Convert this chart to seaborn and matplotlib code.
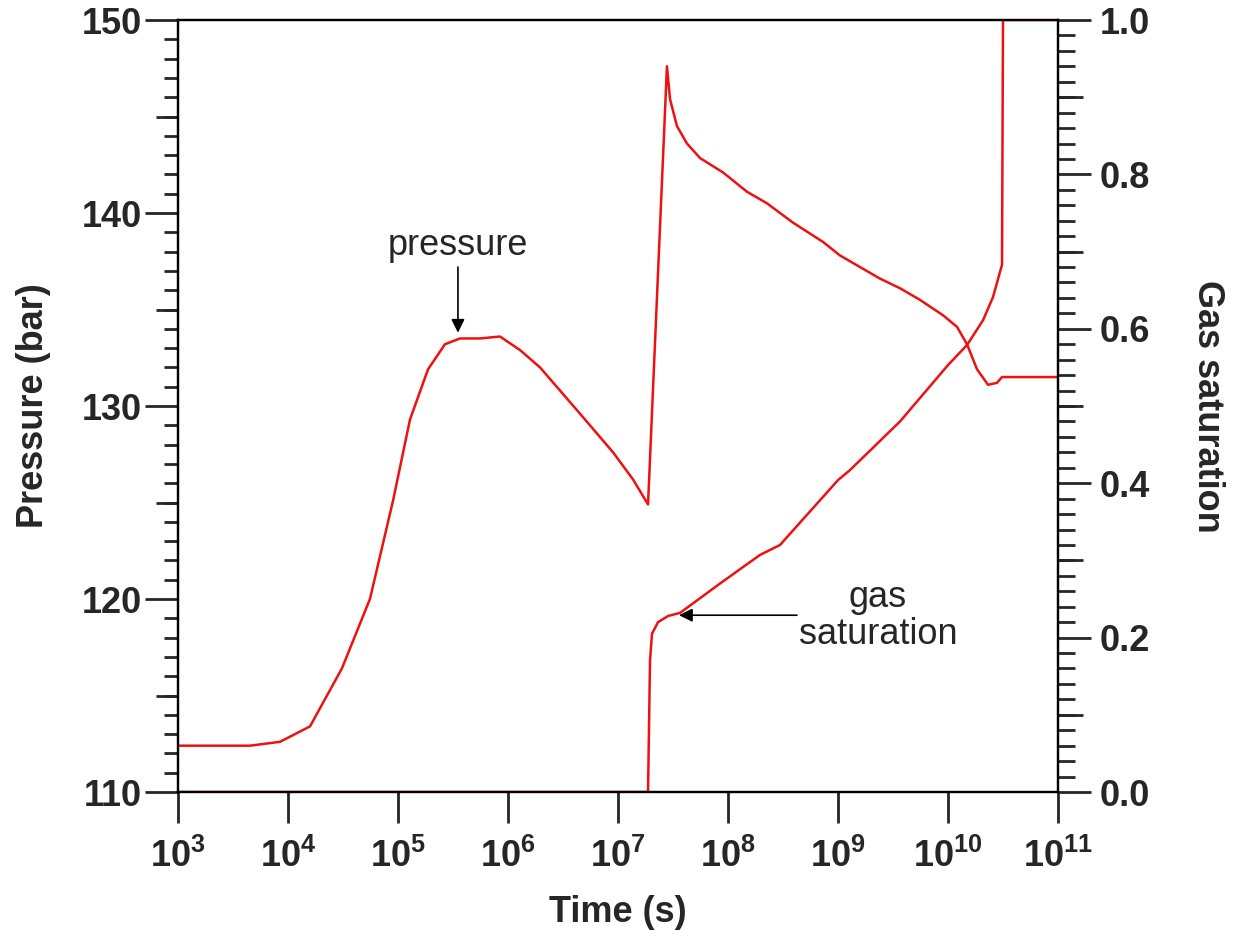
import numpy as np
import pandas as pd
import matplotlib
matplotlib.use("Agg")
import matplotlib.pyplot as plt
import seaborn as sns
from matplotlib.ticker import FixedLocator, MultipleLocator, NullLocator

# ---------------- data ----------------
p_logt = [3.0, 3.655, 3.927, 4.2, 4.49, 4.745, 4.955, 5.109, 5.273, 5.427,
          5.564, 5.745, 5.927, 6.109, 6.291, 6.655, 6.955, 7.136, 7.273,
          7.445, 7.473, 7.536, 7.627, 7.745, 7.955, 8.173, 8.355, 8.591,
          8.864, 9.018, 9.382, 9.564, 9.745, 9.955, 10.082, 10.173, 10.264,
          10.364, 10.445, 10.491, 11.0]
pressure = [112.4, 112.4, 112.6, 113.4, 116.4, 120.0, 125.1, 129.3, 131.9,
            133.2, 133.5, 133.5, 133.6, 132.9, 132.0, 129.6, 127.6, 126.2,
            124.9, 147.6, 145.9, 144.5, 143.6, 142.85, 142.1, 141.1, 140.5,
            139.5, 138.5, 137.8, 136.6, 136.1, 135.5, 134.7, 134.1, 133.2,
            131.9, 131.1, 131.2, 131.5, 131.5]

s_logt = [3.0, 7.273, 7.291, 7.309, 7.364, 7.455, 7.564, 7.927, 8.29, 8.473,
          9.0, 9.109, 9.564, 10.0, 10.173, 10.318, 10.409, 10.491, 10.5, 11.0]
saturation = [0.0, 0.0, 0.17, 0.205, 0.22, 0.228, 0.232, 0.27, 0.307, 0.32,
              0.404, 0.417, 0.48, 0.553, 0.579, 0.611, 0.641, 0.683, 1.0, 1.0]

x_ticks = [3, 4, 5, 6, 7, 8, 9, 10, 11]
left_ticks = [110, 120, 130, 140, 150]
right_ticks = [0.0, 0.2, 0.4, 0.6, 0.8, 1.0]

pdf = pd.DataFrame({"time": np.power(10.0, p_logt), "pressure": pressure})
sdf = pd.DataFrame({"time": np.power(10.0, s_logt), "saturation": saturation})

# ---------------- style ----------------
sns.set_style("ticks")
plt.rcParams["font.family"] = ["Liberation Sans", "DejaVu Sans"]
plt.rcParams["mathtext.fontset"] = "custom"
plt.rcParams["mathtext.rm"] = "Liberation Sans"
plt.rcParams["mathtext.bf"] = "Liberation Sans:bold"
plt.rcParams["axes.linewidth"] = 1.6

RED = "#ee1111"
FS = 26

fig = plt.figure(figsize=(12.36, 9.38), dpi=100)
ax = fig.add_axes([178 / 1236, 1 - 792 / 938, 880 / 1236, 772 / 938])
ax2 = ax.twinx()

sns.lineplot(data=pdf, x="time", y="pressure", ax=ax, color=RED, lw=1.8,
             sort=False, estimator=None)
sns.lineplot(data=sdf, x="time", y="saturation", ax=ax2, color=RED, lw=1.8,
             sort=False, estimator=None)

ax.set_xscale("log")
ax.set_xlim(1e3, 1e11)
ax.set_ylim(110, 150)
ax2.set_ylim(0, 1.0)

for s in list(ax.spines.values()) + list(ax2.spines.values()):
    s.set_visible(True)
    s.set_color("black")

# x ticks
ax.xaxis.set_major_locator(FixedLocator([10.0 ** k for k in x_ticks]))
ax.xaxis.set_minor_locator(NullLocator())
ax.set_xticklabels([r"$\mathbf{10^{%d}}$" % k for k in x_ticks])
ax.tick_params(axis="x", which="major", direction="out", length=22, width=2,
               labelsize=FS, pad=12, top=False)
ax2.tick_params(axis="x", which="both", top=False, bottom=False)

# left y
ax.yaxis.set_major_locator(FixedLocator(left_ticks))
ax.yaxis.set_minor_locator(MultipleLocator(1))
ax.set_yticklabels([str(v) for v in left_ticks], fontweight="bold")
ax.tick_params(axis="y", which="major", direction="out", length=24, width=2,
               labelsize=FS, pad=2, right=False)
ax.tick_params(axis="y", which="minor", direction="out", length=10, width=2,
               right=False)
secl = ax.secondary_yaxis("left")
secl.set_yticks([115, 125, 135, 145])
secl.tick_params(length=16, width=2, labelleft=False)
secl.spines["left"].set_visible(False)

# right y
ax2.yaxis.set_major_locator(FixedLocator(right_ticks))
ax2.yaxis.set_minor_locator(MultipleLocator(0.02))
ax2.set_yticklabels(["%.1f" % v for v in right_ticks], fontweight="bold")
ax2.tick_params(axis="y", which="major", direction="out", length=24, width=2,
                labelsize=FS, pad=6, left=False)
ax2.tick_params(axis="y", which="minor", direction="out", length=12, width=2,
                left=False)
secr = ax2.secondary_yaxis("right")
secr.set_yticks([0.1, 0.3, 0.5, 0.7, 0.9])
secr.tick_params(length=18, width=2, labelright=False)
secr.spines["right"].set_visible(False)

ax.set_xlabel("Time (s)", fontsize=FS, fontweight="bold", labelpad=14)
ax.set_ylabel("Pressure (bar)", fontsize=FS, fontweight="bold", labelpad=22)
ax2.set_ylabel("Gas saturation", fontsize=FS, fontweight="bold",
               rotation=270, labelpad=54)

# annotations
ax.text(10 ** 5.545, 138.34, "pressure", fontsize=FS, ha="center",
        va="center")
ax.annotate("", xy=(10 ** 5.545, 133.8), xytext=(10 ** 5.545, 137.2),
            arrowprops=dict(arrowstyle="-|>", color="black", lw=1.2,
                            mutation_scale=20, shrinkA=0, shrinkB=0))
ax2.text(10 ** 9.364, 0.228, "gas\nsaturation", fontsize=FS, ha="center",
         va="center", linespacing=1.1)
ax2.annotate("", xy=(10 ** 7.555, 0.229), xytext=(10 ** 8.627, 0.229),
             arrowprops=dict(arrowstyle="-|>", color="black", lw=1.2,
                             mutation_scale=20, shrinkA=0, shrinkB=0))

fig.savefig("out.png", dpi=100)
